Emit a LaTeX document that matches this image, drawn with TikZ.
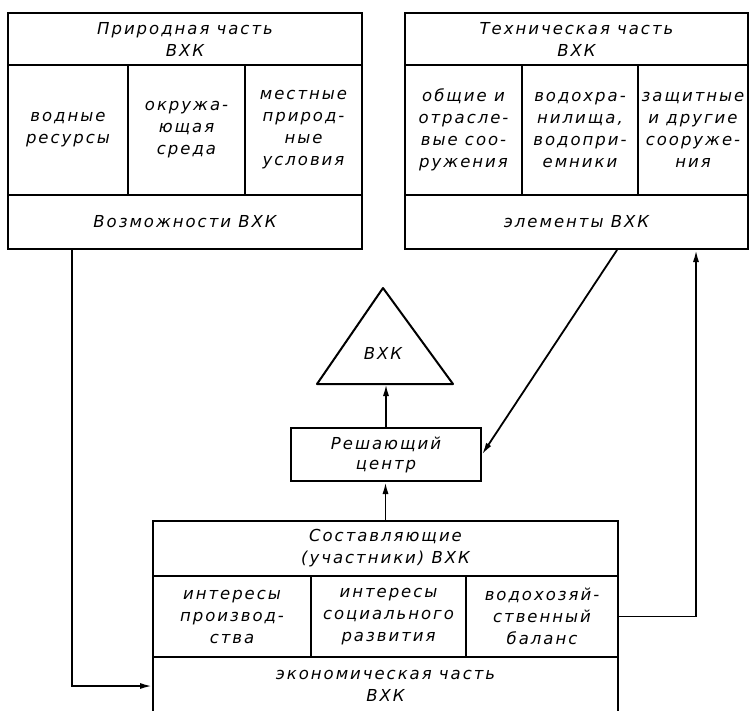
\documentclass[tikz,border=0pt]{standalone}
\usepackage{fontspec}
\setmainfont{DejaVu Sans}
\newfontfamily\gostfont[LetterSpace=12]{DejaVu Sans}
\usetikzlibrary{arrows.meta,positioning}

\begin{document}
\begin{tikzpicture}[>={Latex[length=12pt,width=6pt]},x=1pt,y=-1pt,
    box/.style={line width=2pt},
    cell/.style={draw,line width=2pt,inner sep=0pt,align=center,
      font={\gostfont\itshape\fontsize{16.5pt}{22pt}\selectfont}},
    arr/.style={->,line width=1.8pt}]
  \useasboundingbox (0,0) rectangle (750,710);
  % natural part
  \node[cell,minimum width=354pt,minimum height=52pt] (nattop) at (185,39) {Природная часть\\ВХК};
  \node[cell,minimum width=120pt,minimum height=130pt] (natres) at (68,130) {водные\\ресурсы};
  \node[cell,minimum width=117pt,minimum height=130pt] (natenv) at (186.5,130) {окружа-\\ющая\\среда};
  \node[cell,minimum width=117pt,minimum height=130pt] (natloc) at (303.5,130) {местные\\природ-\\ные\\условия};
  \node[cell,minimum width=354pt,minimum height=54pt] (natcap) at (185,222) {Возможности ВХК};
  % technical part
  \node[cell,minimum width=343pt,minimum height=52pt] (techtop) at (576.5,39) {Техническая часть\\ВХК};
  \node[cell,minimum width=117pt,minimum height=130pt] (techgen) at (463.5,130) {общие и\\отрасле-\\вые соо-\\ружения};
  \node[cell,minimum width=116pt,minimum height=130pt] (techres) at (580,130) {водохра-\\нилища,\\водопри-\\емники};
  \node[cell,minimum width=110pt,minimum height=130pt] (techprot) at (693,130) {защитные\\и другие\\сооруже-\\ния};
  \node[cell,minimum width=343pt,minimum height=54pt] (techel) at (576.5,222) {элементы ВХК};
  % complex and decision centre
  \draw[box,line join=round] (383,288) -- (317,384) -- (453,384) -- cycle;
  \coordinate (tribase) at (383,384);
  \node[font={\gostfont\itshape\fontsize{16.5pt}{22pt}\selectfont}] (vxk) at (383,353) {ВХК};
  \node[cell,minimum width=190pt,minimum height=53pt,
    font={\gostfont\itshape\fontsize{16.5pt}{20pt}\selectfont}] (centre) at (386,454.5) {Решающий\\центр};
  % economic part
  \node[cell,minimum width=465pt,minimum height=55pt] (ectop) at (385.5,548.5) {Составляющие\\(участники) ВХК};
  \node[cell,minimum width=158pt,minimum height=81pt] (ecprod) at (232,616.5) {интересы\\производ-\\ства};
  \node[cell,minimum width=155pt,minimum height=81pt] (ecsoc) at (388.5,616.5) {интересы\\социального\\развития};
  \node[cell,minimum width=152pt,minimum height=81pt] (ecbal) at (542,616.5) {водохозяй-\\ственный\\баланс};
  \node[cell,minimum width=465pt,minimum height=58pt] (ecbase) at (385.5,686) {экономическая часть\\ВХК};
  % connectors
  \draw[arr] (centre.north) -- (centre.north |- tribase);
  \draw[arr] (ectop.north) -- (ectop.north |- centre.south);
  \draw[arr] ([xshift=65pt]natcap.south west) |- (ecbase.west);
  \draw[arr] ([xshift=213pt]techel.south west) -- (centre.east);
  \draw[arr] (ecbal.east) -| ([xshift=292pt]techel.south west);
\end{tikzpicture}
\end{document}
